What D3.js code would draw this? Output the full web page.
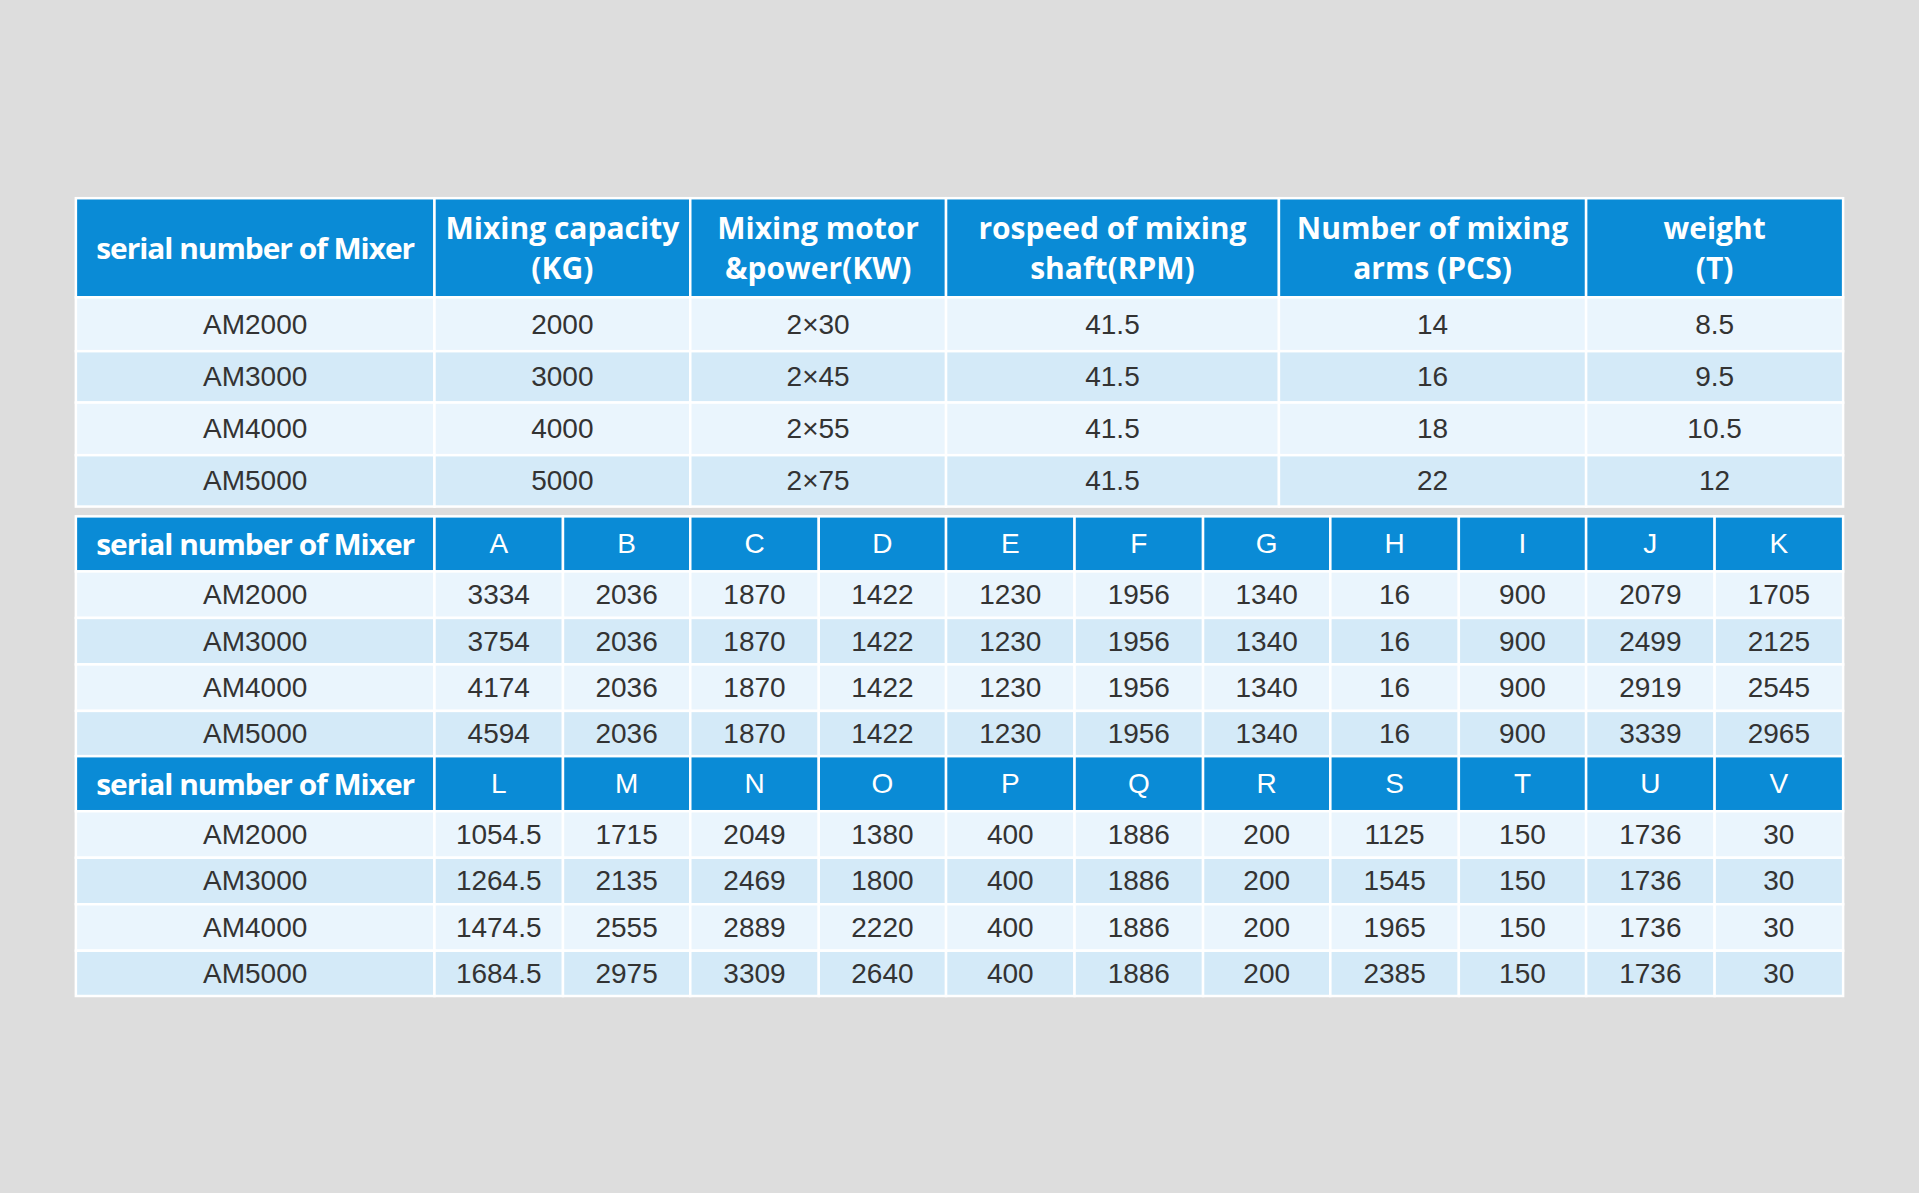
<!DOCTYPE html>
<html><head><meta charset="utf-8">
<script src="https://cdn.jsdelivr.net/npm/d3@7"></script>
<style>body{margin:0;background:#dddddd;}svg{display:block}</style>
</head><body>
<script>
// data
var models = ["AM2000", "AM3000", "AM4000", "AM5000"];
var specHeaders = [["serial number of Mixer"], ["Mixing capacity", "(KG)"], ["Mixing motor", "&power(KW)"],
  ["rospeed of mixing", "shaft(RPM)"], ["Number of mixing", "arms  (PCS)"], ["weight", "(T)"]];
var capacity = ["2000", "3000", "4000", "5000"];
var motor = ["2×30", "2×45", "2×55", "2×75"];
var rpm = ["41.5", "41.5", "41.5", "41.5"];
var arms = ["14", "16", "18", "22"];
var weight = ["8.5", "9.5", "10.5", "12"];
var dimLabels1 = ["A","B","C","D","E","F","G","H","I","J","K"];
var dims1 = [
  ["3334","2036","1870","1422","1230","1956","1340","16","900","2079","1705"],
  ["3754","2036","1870","1422","1230","1956","1340","16","900","2499","2125"],
  ["4174","2036","1870","1422","1230","1956","1340","16","900","2919","2545"],
  ["4594","2036","1870","1422","1230","1956","1340","16","900","3339","2965"]];
var dimLabels2 = ["L","M","N","O","P","Q","R","S","T","U","V"];
var dims2 = [
  ["1054.5","1715","2049","1380","400","1886","200","1125","150","1736","30"],
  ["1264.5","2135","2469","1800","400","1886","200","1545","150","1736","30"],
  ["1474.5","2555","2889","2220","400","1886","200","1965","150","1736","30"],
  ["1684.5","2975","3309","2640","400","1886","200","2385","150","1736","30"]];

var W = 1919, H = 1193, k = 1919 / 1568;
var sx = d3.scaleLinear().domain([0, 1568]).range([0, W]);
var sy = d3.scaleLinear().domain([0, 975]).range([0, H]);
var svg = d3.select("body").append("svg").attr("width", W).attr("height", H);
svg.append("rect").attr("width", W).attr("height", H).attr("fill", "#dddddd");

var BLUE = "#0a8bd6", ROW1 = "#eaf5fd", ROW2 = "#d4eaf8";
var headFont = "'Open Sans', 'Noto Sans', sans-serif";
var bodyFont = "'Liberation Sans', Arial, sans-serif";

function cell(x0, x1, y0, y1, fill, lines, head) {
  svg.append("rect").attr("x", sx(x0)).attr("y", sy(y0))
    .attr("width", sx(x1) - sx(x0)).attr("height", sy(y1) - sy(y0))
    .attr("fill", fill).attr("stroke", "#ffffff").attr("stroke-width", 2.5);
  var cx = (sx(x0) + sx(x1)) / 2, cy = (sy(y0) + sy(y1)) / 2;
  var lh = head ? 40 : 0;
  lines.forEach(function(t, i) {
    var tx = svg.append("text").attr("x", cx)
      .attr("y", cy + (i - (lines.length - 1) / 2) * lh)
      .attr("text-anchor", "middle").attr("dominant-baseline", "central")
      .text(t);
    if (head) {
      tx.attr("fill", "#fff").attr("font-family", headFont).attr("font-weight", 700)
        .attr("font-size", t.length > 18 ? 29 : 30);
      if (t === "serial number of Mixer") tx.attr("textLength", 318).attr("lengthAdjust", "spacingAndGlyphs").attr("letter-spacing", -1);
    } else {
      tx.attr("fill", "#333").attr("font-family", bodyFont).attr("font-size", 28).attr("font-weight", 300);
    }
  });
}

// table 1
var edges1 = [62, 355, 564, 773, 1045, 1296, 1506];
var rows1 = [243, 287, 329, 372, 414];
specHeaders.forEach(function(h, i) { cell(edges1[i], edges1[i + 1], 162, 243, BLUE, h, true); });
var cols1 = [models, capacity, motor, rpm, arms, weight];
models.forEach(function(m, r) {
  cols1.forEach(function(col, c) {
    cell(edges1[c], edges1[c + 1], rows1[r], rows1[r + 1], r % 2 ? ROW2 : ROW1, [col[r]], false);
  });
});

// dimension tables
var edges2 = [62, 355, 460, 564, 669, 773, 878, 983, 1087, 1192, 1296, 1401, 1506];
function dimTable(labels, vals, y0, y1, rows) {
  cell(edges2[0], edges2[1], y0, y1, BLUE, ["serial number of Mixer"], true);
  labels.forEach(function(l, i) {
    var tx = cell(edges2[i + 1], edges2[i + 2], y0, y1, BLUE, [l], false);
  });
  models.forEach(function(m, r) {
    var f = r % 2 ? ROW2 : ROW1;
    cell(edges2[0], edges2[1], rows[r], rows[r + 1], f, [m], false);
    vals[r].forEach(function(v, c) { cell(edges2[c + 1], edges2[c + 2], rows[r], rows[r + 1], f, [v], false); });
  });
}
dimTable(dimLabels1, dims1, 422, 467, [467, 505, 543, 581, 618]);
dimTable(dimLabels2, dims2, 618, 663, [663, 701, 739, 777, 814]);
// header letters white
svg.selectAll("text").filter(function() { return /^[A-Z]$/.test(this.textContent); }).attr("fill", "#fff");
</script>
</body></html>
